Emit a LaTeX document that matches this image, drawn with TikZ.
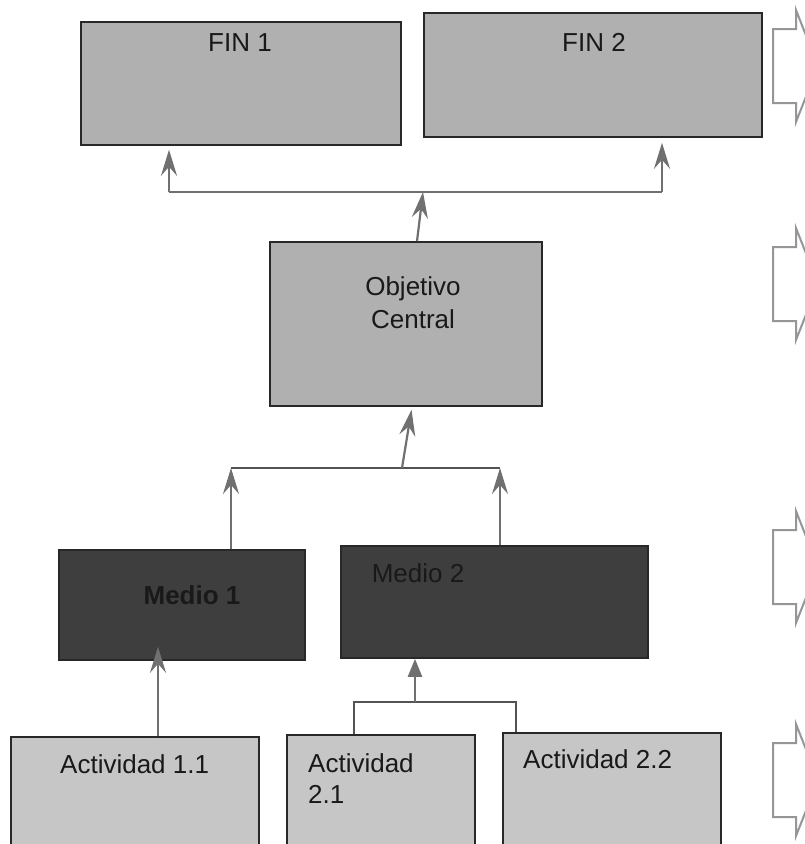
\documentclass[tikz,border=0pt]{standalone}
\usepackage{fontspec}
\setmainfont{Liberation Sans}
\usetikzlibrary{arrows.meta}
\definecolor{fingray}{RGB}{176,176,176}
\definecolor{actgray}{RGB}{198,198,198}
\definecolor{mediogray}{RGB}{62,62,62}
\definecolor{linkgray}{RGB}{112,112,112}
\definecolor{edgegray}{RGB}{40,40,40}
\definecolor{sidegray}{RGB}{150,150,150}
\begin{document}
\begin{tikzpicture}[x=1pt,y=-1pt,
  box/.style={draw=edgegray, line width=1.6pt, inner sep=0pt},
  finbox/.style={box, fill=fingray},
  medbox/.style={box, fill=mediogray},
  actbox/.style={box, fill=actgray},
  lbl/.style={font=\fontsize{26}{31}\selectfont, inner sep=0pt, text=black!90},
  up/.style={draw=linkgray, line width=2.2pt,
    -{Stealth[length=26pt,width=16pt,inset=9pt]}},
  uptri/.style={draw=linkgray, line width=2.2pt,
    -{Triangle[length=18pt,width=14pt]}},
  bar/.style={draw=linkgray, line width=2pt},
  thinbar/.style={draw=edgegray!80, line width=1.4pt},
  sidearrow/.pic={
    \draw[draw=sidegray, fill=white, line width=2pt, line join=miter]
      (0,-37) -- (23,-37) -- (23,-56) -- (45,0) -- (23,56) -- (23,37)
      -- (0,37) -- cycle;
  }]
\path[use as bounding box, clip] (0,0) rectangle (805,844);
\fill[white] (0,0) rectangle (805,844);

% level 1: ends
\node[finbox, minimum width=320pt, minimum height=123pt] (fin1) at (241,83.5) {};
\node[finbox, minimum width=338pt, minimum height=124pt] (fin2) at (593,75) {};
\node[lbl] (tfin1) at (240,43) {FIN 1};
\node[lbl] (tfin2) at (594,42) {FIN 2};

% level 2: central objective
\node[finbox, minimum width=272pt, minimum height=164pt] (obj) at (406,324) {};
\node[lbl] (tobj1) at (413,289) {Objetivo};
\node[lbl] (tobj2) at (413,319) {Central};

% level 3: means
\node[medbox, minimum width=246pt, minimum height=110pt] (med1) at (182,605) {};
\node[medbox, minimum width=307pt, minimum height=112pt] (med2) at (494.5,602) {};
\node[lbl, font=\fontsize{26}{31}\selectfont\bfseries] (tmed1) at (192,595) {Medio 1};
\node[lbl] (tmed2) at (418,573) {Medio 2};

% level 4: activities
\node[actbox, minimum width=248pt, minimum height=130pt] (act11) at (135,802) {};
\node[actbox, minimum width=188pt, minimum height=130pt] (act21) at (381,800) {};
\node[actbox, minimum width=218pt, minimum height=130pt] (act22) at (612,798) {};
\node[lbl, anchor=west] (tact11) at (60,764) {Actividad 1.1};
\node[lbl, anchor=west] (tact21a) at (308,763) {Actividad};
\node[lbl, anchor=west] (tact21b) at (308,794) {2.1};
\node[lbl, anchor=west] (tact22) at (523,759) {Actividad 2.2};

% junction points of the connectors
\coordinate (fl) at (169,192);
\coordinate (fr) at (662,192);
\coordinate (fj) at (423,192);
\coordinate (ml) at (231,468);
\coordinate (mr) at (500,468);
\coordinate (mj) at (402,468);
\coordinate (al) at (354,702);
\coordinate (ar) at (516,702);
\coordinate (aj) at (415,702);

% objective -> ends
\draw[bar] (fl) -- (fr);
\draw[up, shorten >=4pt] (fl) -- (fl |- fin1.south);
\draw[up, shorten >=5pt] (fr) -- (fr |- fin2.south);
\draw[up] ([xshift=11pt]obj.north) -- (fj);

% means -> objective
\draw[thinbar] (ml) -- (mr);
\draw[up, shorten >=3pt] (mj) -- ([xshift=6pt]obj.south);
\draw[up] (med1.north -| ml) -- (ml);
\draw[up] (med2.north -| mr) -- (mr);

% activities -> means
\draw[up, shorten >=-14pt] ([xshift=23pt]act11.north) -- ([xshift=23pt]act11.north |- med1.south);
\draw[thinbar] (al |- act21.north) -- (al) -- (ar) -- (ar |- act22.north);
\draw[uptri] (aj) -- (aj |- med2.south);

% side markers, one per level
\pic at (773,66) {sidearrow};
\pic at (773,284) {sidearrow};
\pic at (773,567) {sidearrow};
\pic at (773,780) {sidearrow};
\end{tikzpicture}
\end{document}
